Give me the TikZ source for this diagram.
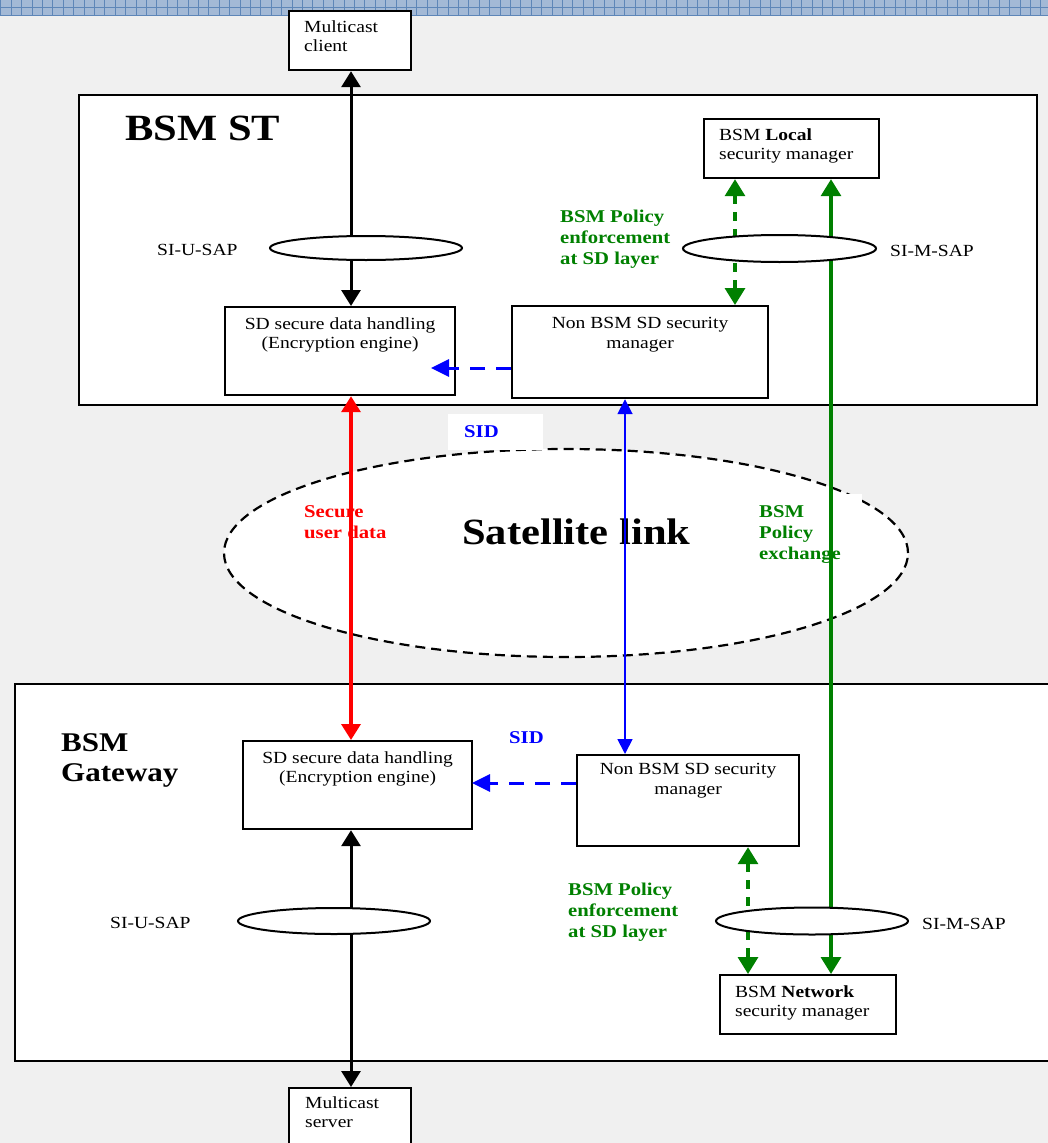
\documentclass[tikz,border=0pt]{standalone}
\usepackage{fontspec}
\setmainfont{Liberation Serif}[FakeStretch=1.15]
\usetikzlibrary{arrows.meta,shapes.geometric}

\definecolor{pagebg}{RGB}{240,240,240}
\definecolor{stripfill}{RGB}{163,185,214}
\definecolor{stripline}{RGB}{94,134,184}
\definecolor{okgreen}{RGB}{0,128,0}
\definecolor{linkblue}{RGB}{0,0,255}
\definecolor{datared}{RGB}{255,0,0}

\tikzset{
  unit/.style={draw, line width=2.2, fill=white, inner sep=0, anchor=north west},
  sap/.style={ellipse, draw, line width=2, fill=white, inner sep=0},
  txt/.style={font=\fontsize{17}{19.5}\selectfont, inner sep=0, align=left, anchor=north west},
  ctxt/.style={font=\fontsize{17}{19.5}\selectfont, inner sep=0, align=center, anchor=north},
  note/.style={font=\fontsize{18}{21}\selectfont\bfseries, inner sep=0, align=left, anchor=north west},
  bigtitle/.style={font=\fontsize{37}{40}\selectfont\bfseries, inner sep=0, anchor=base west},
  saplabel/.style={font=\fontsize{17}{19.5}\selectfont, inner sep=0, anchor=base west},
  blackflow/.style={line width=3, arrows={Triangle[width=19pt,length=16pt]-Triangle[width=19pt,length=16pt]}},
  redflow/.style={datared, line width=3.5, arrows={Triangle[width=19pt,length=16pt]-Triangle[width=19pt,length=16pt]}},
  greenflow/.style={okgreen, line width=3.3, arrows={Triangle[width=20pt,length=17pt]-Triangle[width=20pt,length=17pt]}},
  greendash/.style={okgreen, line width=3.3, dash pattern=on 9pt off 8pt, arrows={Triangle[width=20pt,length=17pt]-Triangle[width=20pt,length=17pt]}},
  bluethin/.style={linkblue, line width=1.8, arrows={Triangle[width=15pt,length=15pt]-Triangle[width=15pt,length=15pt]}},
  bluedash/.style={linkblue, line width=3, dash pattern=on 15pt off 11pt, arrows={-Triangle[width=17pt,length=18pt]}}
}

\begin{document}
\begin{tikzpicture}[x=1pt, y=-1pt]
  \useasboundingbox (0,0) rectangle (1048,1143);
  \clip (0,0) rectangle (1048,1143);
  \fill[pagebg] (0,0) rectangle (1048,1143);

  % ruled strip along the top edge
  \fill[stripfill] (0,0) rectangle (1048,15.5);
  \foreach \i in {0,...,101}
    \draw[stripline, line width=0.8] (\i*10.4+0.7,0) -- (\i*10.4+0.7,15.5);
  \draw[stripline, line width=0.8] (0,7.5) -- (1048,7.5) (0,15) -- (1048,15);

  % vertical positions of the links
  \coordinate (ux) at (351,0);
  \coordinate (bx) at (625,0);
  \coordinate (gdt) at (735,0);
  \coordinate (gdb) at (748,0);
  \coordinate (gx) at (831,0);
  \coordinate (bdt) at (431,368);
  \coordinate (bdb) at (472,783);

  % terminal and gateway frames
  \node[unit, minimum width=958, minimum height=310] (st) at (78,94) {};
  \node[unit, minimum width=1046, minimum height=377] (gw) at (14,683) {};

  % satellite link
  \node[ellipse, draw, line width=2.2, fill=white, dash pattern=on 10pt off 6pt,
        inner sep=0, minimum width=684, minimum height=208] (sat) at (566,553) {};
  \fill[white] (448,414) rectangle (543,450);
  \fill[white] (757,494) rectangle (862,566);

  % titles and notes
  \node[bigtitle] (sttitle) at (125,140) {BSM ST};
  \node[font=\fontsize{27}{30}\selectfont\bfseries, inner sep=0, align=left, anchor=north west]
       (gwtitle) at (61,733) {BSM\\Gateway};
  \node[bigtitle] (satlabel) at (462,544) {Satellite link};
  \node[note, okgreen] (enfst) at (560,209.7) {BSM Policy\\enforcement\\at SD layer};
  \node[note, okgreen] (enfgw) at (568,882.7) {BSM Policy\\enforcement\\at SD layer};
  \node[note, datared] (secure) at (304,505) {Secure\\user data};
  \node[note, okgreen] (polex) at (759,505) {BSM\\Policy\\exchange};
  \node[note, linkblue, anchor=base west] (sidst) at (464,437) {SID};
  \node[note, linkblue, anchor=base west] (sidgw) at (509,743) {SID};

  % functional blocks
  \node[unit, minimum width=122, minimum height=59] (client) at (288,10) {};
  \node[txt] (clientt) at (304,20.4) {Multicast\\client};

  \node[unit, minimum width=175, minimum height=59] (local) at (703,118) {};
  \node[txt] (localt) at (719,128.4) {BSM \textbf{Local}\\security manager};

  \node[unit, minimum width=230, minimum height=88] (sdst) at (224,306) {};
  \node[ctxt, yshift=-11.5pt] (sdstt) at (sdst.north) {SD secure data handling\\(Encryption engine)};

  \node[unit, minimum width=256, minimum height=92] (nonst) at (511,305) {};
  \node[ctxt, yshift=-12.3pt] (nonstt) at (nonst.north) {Non BSM SD security\\manager};

  \node[unit, minimum width=229, minimum height=88] (sdgw) at (242,740) {};
  \node[ctxt, yshift=-11.4pt] (sdgwt) at (sdgw.north) {SD secure data handling\\(Encryption engine)};

  \node[unit, minimum width=222, minimum height=91] (nongw) at (576,754) {};
  \node[ctxt, yshift=-9.4pt] (nongwt) at (nongw.north) {Non BSM SD security\\manager};

  \node[unit, minimum width=176, minimum height=59] (network) at (719,974) {};
  \node[txt] (networkt) at (735,985.4) {BSM \textbf{Network}\\security manager};

  \node[unit, minimum width=122, minimum height=80] (server) at (288,1087) {};
  \node[txt] (servert) at (305,1096.4) {Multicast\\server};

  % user data path
  \draw[blackflow] (ux |- client.south) -- (ux |- sdst.north);
  \draw[redflow] (ux |- sdst.south) -- (ux |- sdgw.north);
  \draw[blackflow] (ux |- sdgw.south) -- (ux |- server.north);

  % security identifiers
  \draw[bluethin] (bx |- nonst.south) -- (bx |- nongw.north);
  \draw[bluedash] (bdt -| nonst.west) -- (bdt);
  \draw[bluedash] (bdb -| nongw.west) -- (bdb);

  % policy paths
  \draw[greendash] (gdt |- local.south) -- (gdt |- nonst.north);
  \draw[greendash] (gdb |- nongw.south) -- (gdb |- network.north);
  \draw[greenflow] (gx |- local.south) -- (gx |- network.north);

  % service access points
  \node[sap, minimum width=192, minimum height=24] (usapst) at (366,248) {};
  \node[sap, minimum width=193, minimum height=27] (msapst) at (779.5,248.5) {};
  \node[sap, minimum width=192, minimum height=26] (usapgw) at (334,921) {};
  \node[sap, minimum width=192, minimum height=27] (msapgw) at (812,921) {};
  \node[saplabel] (usapstl) at (157,255.5) {SI-U-SAP};
  \node[saplabel] (msapstl) at (890,256.5) {SI-M-SAP};
  \node[saplabel] (usapgwl) at (110,928) {SI-U-SAP};
  \node[saplabel] (msapgwl) at (922,929) {SI-M-SAP};
\end{tikzpicture}
\end{document}
